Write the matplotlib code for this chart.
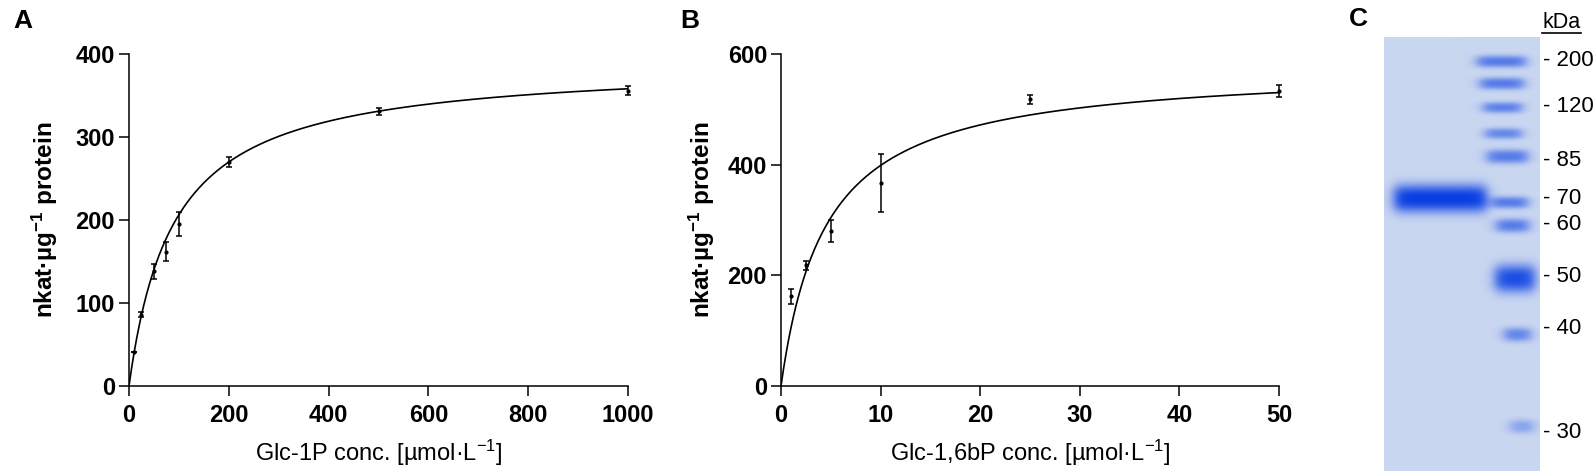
import numpy as np
import matplotlib
matplotlib.use("Agg")
import matplotlib.pyplot as plt

plt.rcParams['font.family'] = ['Liberation Sans', 'DejaVu Sans']
plt.rcParams['mathtext.fontset'] = 'custom'
plt.rcParams['mathtext.rm'] = 'Liberation Sans'
plt.rcParams['mathtext.bf'] = 'Liberation Sans:bold'
plt.rcParams['mathtext.default'] = 'regular'

# panel A: Glc-1P kinetics
conc_a = [10, 25, 50, 75, 100, 200, 500, 1000]
rate_a = [41, 86, 138, 162, 195, 270, 331, 356]
err_a = [0.5, 3, 9, 11.5, 14.5, 6, 4, 5]
vmax_a, km_a = 390, 89

# panel B: Glc-1,6bP kinetics
conc_b = [1, 2.5, 5, 10, 25, 50]
rate_b = [162, 218, 280, 367, 518, 533]
err_b = [13, 8, 20, 53, 8, 11]
vmax_b, km_b = 578, 4.5

# panel C: SDS gel (band rows in gel pixels from top)
gel_h, gel_w = 434, 156
marker_kda = [200, 150, 120, 100, 85, 70, 60, 50, 40, 30]
marker_row = [24, 46, 70, 96, 119, 165, 188, 241, 297, 389]
marker_halfh = [6, 6, 5.5, 5.5, 7, 6, 7, 14, 7, 7]
marker_x0 = [93, 96, 99, 101, 103, 108, 112, 111, 120, 126]
marker_x1 = [141, 139, 137, 137, 143, 143, 144, 150, 146, 149]
marker_int = [0.6, 0.6, 0.56, 0.52, 0.6, 0.6, 0.6, 0.9, 0.55, 0.35]
sample_band = dict(row=161, halfh=14, x0=10, x1=102, inten=1.0)
label_kda = ['200', '120', '85', '70', '60', '50', '40', '30']
label_row = [24, 70, 124, 162, 188, 240, 291, 396]


def mm(s, vmax, km):
    return vmax * s / (km + s)


def kinetics_panel(ax, conc, rate, err, vmax, km, xmax, ymax, xstep, ystep, xlabel):
    s = np.linspace(0, xmax, 400)
    ax.plot(s, mm(s, vmax, km), color='black', lw=1.2)
    ax.errorbar(conc, rate, yerr=err, fmt='o', ms=2, color='black',
                ecolor='black', elinewidth=1.1, capsize=2.2, capthick=1.1, clip_on=False)
    ax.set_xlim(0, xmax)
    ax.set_ylim(0, ymax)
    ax.set_xticks(np.arange(0, xmax + 1e-9, xstep))
    ax.set_yticks(np.arange(0, ymax + 1e-9, ystep))
    for sp in ['top', 'right']:
        ax.spines[sp].set_visible(False)
    for sp in ['left', 'bottom']:
        ax.spines[sp].set_linewidth(1.1)
    ax.tick_params(length=7, width=1.1, labelsize=17)
    ax.tick_params(axis='x', pad=6)
    ax.tick_params(axis='y', pad=3)
    for lab in ax.get_xticklabels() + ax.get_yticklabels():
        lab.set_fontweight('bold')
    ax.set_ylabel(r'nkat·µg$^{\mathbf{-1}}$ protein', fontsize=17.5, fontweight='bold')
    ax.set_xlabel(xlabel, fontsize=17, labelpad=8)


fig = plt.figure(figsize=(15.94, 4.71), dpi=100)
W, H = 1594, 471

ax_a = fig.add_axes([129 / W, 85 / H, 499 / W, 332 / H])
kinetics_panel(ax_a, conc_a, rate_a, err_a, vmax_a, km_a, 1000, 400, 200, 100,
               r'Glc-1P conc. [µmol·L$^{-1}$]')
ax_a.yaxis.set_label_coords(-0.138, 0.5)

ax_b = fig.add_axes([781 / W, 85 / H, 498 / W, 332 / H])
kinetics_panel(ax_b, conc_b, rate_b, err_b, vmax_b, km_b, 50, 600, 10, 200,
               r'Glc-1,6bP conc. [µmol·L$^{-1}$]')
ax_b.yaxis.set_label_coords(-0.128, 0.5)

# gel image
yy, xx = np.mgrid[0:gel_h, 0:gel_w].astype(float)


def band(row, halfh, x0, x1, inten):
    prof_y = np.exp(-np.abs((yy - row) / halfh) ** 2.5)
    prof_x = 1 / (1 + np.exp(-(xx - x0) / 3.5)) / (1 + np.exp((xx - x1) / 3.5))
    return inten * prof_y * prof_x


dens = np.zeros((gel_h, gel_w))
for r, hh, a, b, i in zip(marker_row, marker_halfh, marker_x0, marker_x1, marker_int):
    dens += band(r, hh, a, b, i)
dens += band(**sample_band)
dens = np.clip(dens, 0, 1)

bg = np.array([202, 215, 241]) / 255
dark = np.array([8, 62, 226]) / 255
img = bg[None, None, :] * (1 - dens[..., None]) + dark[None, None, :] * dens[..., None]

ax_c = fig.add_axes([1384 / W, 0, gel_w / W, gel_h / H])
ax_c.imshow(img, extent=[0, gel_w, gel_h, 0], aspect='auto', interpolation='bilinear')
ax_c.set_xlim(0, gel_w)
ax_c.set_ylim(gel_h, 0)
ax_c.axis('off')
for lab, r in zip(label_kda, label_row):
    ax_c.text(gel_w + 3, r, '- ' + lab, fontsize=16, va='center', ha='left', clip_on=False)
ax_c.text(gel_w + 2, -15, 'kDa', fontsize=15.5, va='center', ha='left', clip_on=False)
ax_c.plot([gel_w + 2, gel_w + 41], [-4, -4], color='black', lw=1.2, clip_on=False)

# panel letters
fig.text(13 / W, 1 - 9 / H, 'A', fontsize=19, fontweight='bold', va='top')
fig.text(680 / W, 1 - 9 / H, 'B', fontsize=19, fontweight='bold', va='top')
fig.text(1349 / W, 1 - 7 / H, 'C', fontsize=19, fontweight='bold', va='top')

fig.savefig('out.png', dpi=100)
